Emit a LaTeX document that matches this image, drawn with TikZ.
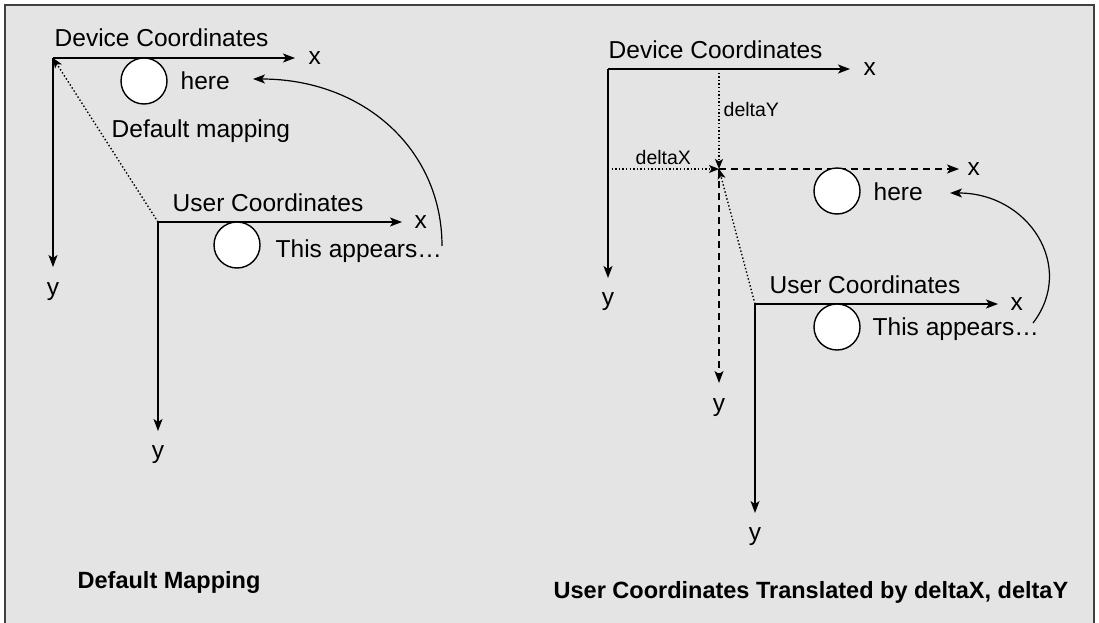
\documentclass[tikz,border=0pt]{standalone}
\usepackage{fontspec}
\setmainfont{Liberation Sans}
\usepackage{xcolor}
\usetikzlibrary{positioning}
\usetikzlibrary{%
  calc,%
  arrows.meta%
}
\definecolor{panelgray}{RGB}{228,228,228}
\definecolor{framegray}{RGB}{64,64,64}

\begin{document}
\begin{tikzpicture}[x=1pt, y=-1pt, line width=1.4pt,
  every node/.style={inner sep=0pt, font=\fontsize{24.5}{29}\selectfont},
  tip/.style={-{Stealth[length=12pt,width=9pt,inset=3pt]}},
  smalltip/.style={-{Stealth[length=10pt,width=8pt,inset=2.5pt]}},
  dots/.style={line width=1.4pt, dash pattern=on 1.4pt off 2.2pt},
  dashes/.style={dash pattern=on 7pt off 5pt},
  ball/.style={circle, draw, fill=white, minimum size=46pt},
  small/.style={font=\fontsize{19.5}{23}\selectfont},
  caption/.style={font=\fontsize{23.5}{28}\selectfont\bfseries}]
\useasboundingbox (0,0) rectangle (1099,623);
\fill[panelgray] (5,5) rectangle (1094,623);
\draw[framegray, line width=2pt] (5,623) -- (5,5) -- (1094,5) -- (1094,623);

% left: default mapping
\coordinate (lDev) at (53,58);
\coordinate (lDevX) at (295,58);
\coordinate (lDevY) at (53,267);
\coordinate (lUsr) at (158,222);
\coordinate (lUsrX) at (402,222);
\coordinate (lUsrY) at (158,431);
\draw[tip] (lDev) -- (lDevX);
\draw[tip] (lDev) -- (lDevY);
\draw[tip] (lUsr) -- (lUsrX);
\draw[tip] (lUsr) -- (lUsrY);
\draw[dots, smalltip] (lUsr) -- (lDev);
\node[right=13pt of lDevX] (lDevXl) {x};
\node[below=15pt of lDevY] (lDevYl) {y};
\node[right=12pt of lUsrX] (lUsrXl) {x};
\node[below=14pt of lUsrY] (lUsrYl) {y};
\node[anchor=base west] (lDevT) at (54,47) {Device Coordinates};
\node[ball] (lHere) at (144,81) {};
\node[anchor=base west] (lHereT) at (180,90) {here};
\node[anchor=base west] (lMap) at (111,137) {Default mapping};
\node[anchor=base west] (lUsrT) at (172,211) {User Coordinates};
\node[ball] (lThis) at (237,245) {};
\node[anchor=base west] (lThisT) at (275,257) {This appears…};
\coordinate (lFrom) at (442,246);
\coordinate (lTo) at (253,79);
\draw[tip, line width=1.2pt] (lFrom) .. controls (442,149) and (363,79) .. (lTo);
\node[caption, anchor=base west] (lCap) at (77,588) {Default Mapping};

% right: translated by deltaX, deltaY
\coordinate (rDev) at (608,69);
\coordinate (rDevX) at (850,69);
\coordinate (rDevY) at (608,278);
\coordinate (rTop) at (719,69);
\coordinate (rSide) at (608,169);
\coordinate (rMov) at (719,169);
\coordinate (rMovX) at (959,169);
\coordinate (rMovY) at (719,383);
\coordinate (rUsr) at (755,304);
\coordinate (rUsrX) at (998,304);
\coordinate (rUsrY) at (755,513);
\draw[tip] (rDev) -- (rDevX);
\draw[tip] (rDev) -- (rDevY);
\draw[dots, smalltip] (rTop) -- (rMov);
\draw[dots, smalltip] (rSide) -- (rMov);
\draw[dashes, tip] (rMov) -- (rMovX);
\draw[dashes, tip] (rMov) -- (rMovY);
\draw[tip] (rUsr) -- (rUsrX);
\draw[tip] (rUsr) -- (rUsrY);
\draw[dots, smalltip] (rUsr) -- (rMov);
\node[right=13pt of rDevX] (rDevXl) {x};
\node[below=14pt of rDevY] (rDevYl) {y};
\node[right=8pt of rMovX] (rMovXl) {x};
\node[below=15pt of rMovY] (rMovYl) {y};
\node[right=12pt of rUsrX] (rUsrXl) {x};
\node[below=14pt of rUsrY] (rUsrYl) {y};
\node[anchor=base west] (rDevT) at (608,59) {Device Coordinates};
\node[small, anchor=base west] (rDy) at (723,117) {deltaY};
\node[small, anchor=base west] (rDx) at (635,164) {deltaX};
\node[ball] (rHere) at (837,191) {};
\node[anchor=base west] (rHereT) at (873,200) {here};
\node[anchor=base west] (rUsrT) at (769,293) {User Coordinates};
\node[ball] (rThis) at (837,327) {};
\node[anchor=base west] (rThisT) at (872,335) {This appears…};
\coordinate (rFrom) at (1033,323);
\coordinate (rTo) at (950,193);
\draw[tip, line width=1.2pt] (rFrom) .. controls (1076,267) and (1029,193) .. (rTo);
\node[caption, anchor=base west] (rCap) at (553,598) {User Coordinates Translated by deltaX, deltaY};
\end{tikzpicture}
\end{document}
